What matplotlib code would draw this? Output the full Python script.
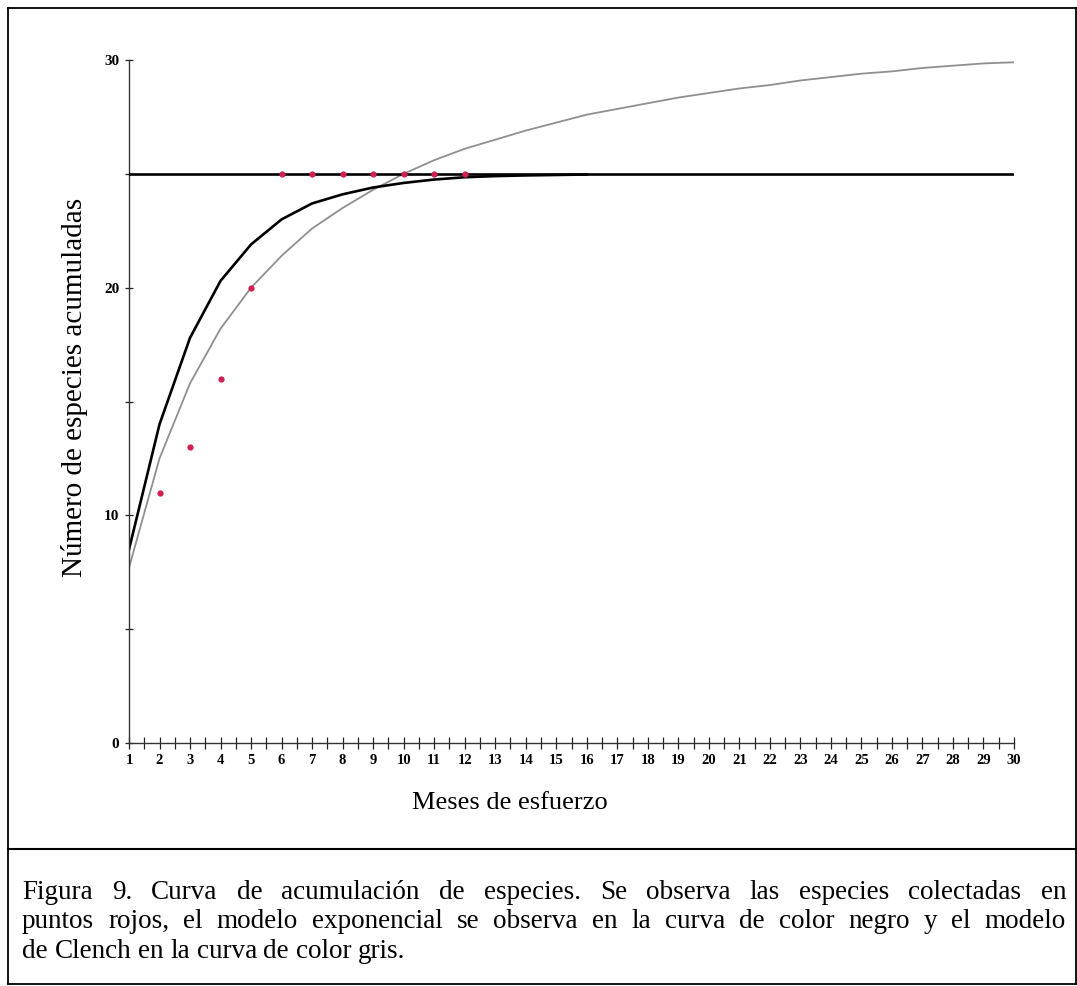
import matplotlib
matplotlib.use("Agg")
import matplotlib.pyplot as plt
from matplotlib.lines import Line2D
from matplotlib.ticker import MultipleLocator

# meses de esfuerzo y especies observadas (puntos rojos)
obs_meses = [2, 3, 4, 5, 6, 7, 8, 9, 10, 11, 12]
obs_especies = [11, 13, 16, 20, 25, 25, 25, 25, 25, 25, 25]

# modelo exponencial (curva negra), meses 1..16
exp_meses = list(range(1, 17))
exp_valores = [8.5, 14.0, 17.8, 20.3, 21.9, 23.0, 23.7, 24.1, 24.4, 24.6,
               24.75, 24.85, 24.9, 24.93, 24.95, 24.97]

# asintota del modelo exponencial
asintota = 25
asintota_x = [1, 30]

# modelo de Clench (curva gris), meses 1..30
clench_meses = list(range(1, 31))
clench_valores = [7.7, 12.5, 15.8, 18.2, 20.0, 21.4, 22.6, 23.5, 24.3, 25.0,
                  25.6, 26.1, 26.5, 26.9, 27.25, 27.6, 27.85, 28.1, 28.35, 28.55,
                  28.75, 28.9, 29.1, 29.25, 29.4, 29.5, 29.65, 29.75, 29.85, 29.9]

x_ticks = list(range(1, 31))
y_ticks = [0, 10, 20, 30]

caption = [
    "Figura 9. Curva de acumulación de especies. Se observa las especies colectadas en",
    "puntos rojos, el modelo exponencial se observa en la curva de color negro y el modelo",
    "de Clench en la curva de color gris.",
]

W, H = 1077, 986
fig = plt.figure(figsize=(W / 100, H / 100), dpi=100)
serif = ["Liberation Serif", "DejaVu Serif"]

ax = fig.add_axes([129 / W, 1 - 743 / H, (1014 - 129) / W, (743 - 60) / H])
ax.plot(asintota_x, [asintota, asintota], color="black", lw=1.9, zorder=3)
ax.plot(clench_meses, clench_valores, color="#8f8f8f", lw=1.3, zorder=2)
ax.plot(exp_meses, exp_valores, color="black", lw=1.9, zorder=2.5)
ax.plot(obs_meses, obs_especies, "o", color="#d0204f", ms=4.5, mec="none", zorder=4)

ax.set_xlim(1, 30)
ax.set_ylim(0, 30)
for s in ["top", "right"]:
    ax.spines[s].set_visible(False)
for s in ["left", "bottom"]:
    ax.spines[s].set_color("#333333")
    ax.spines[s].set_linewidth(1.0)

ax.set_xticks(x_ticks)
ax.set_xticklabels([str(v) for v in x_ticks])
ax.xaxis.set_minor_locator(MultipleLocator(0.5))
ax.set_yticks(y_ticks)
ax.set_yticklabels([str(v) for v in y_ticks])
ax.yaxis.set_minor_locator(MultipleLocator(5))
ax.tick_params(axis="x", which="both", direction="inout", length=8, width=0.9,
               color="#222222", pad=4)
ax.tick_params(axis="y", which="both", direction="inout", length=6, width=0.9,
               color="#222222", pad=4)
for lab in ax.get_xticklabels():
    lab.set_family(serif)
    lab.set_fontweight("bold")
    lab.set_fontsize(10.5)
for lab in ax.get_yticklabels():
    lab.set_family(serif)
    lab.set_fontweight("bold")
    lab.set_fontsize(11)

fig.text(75 / W, 1 - 387 / H, "Número de especies acumuladas", rotation=90,
         ha="center", va="center", family=serif, fontsize=21)
fig.text(510 / W, 1 - 803 / H, "Meses de esfuerzo", ha="center", va="center",
         family=serif, fontsize=19)

# marco y linea divisoria
def hline(y, x0, x1, lw):
    fig.add_artist(Line2D([x0 / W, x1 / W], [1 - y / H, 1 - y / H], color="black",
                          lw=lw, transform=fig.transFigure))

def vline(x, y0, y1, lw):
    fig.add_artist(Line2D([x / W, x / W], [1 - y0 / H, 1 - y1 / H], color="black",
                          lw=lw, transform=fig.transFigure))

hline(8, 8, 1076, 1.3)
hline(849, 8, 1076, 1.5)
hline(984, 8, 1076, 1.3)
vline(8, 8, 984, 1.3)
vline(1076, 8, 984, 1.3)

# leyenda justificada
cap_size = 19.5
fig.canvas.draw()
rend = fig.canvas.get_renderer()
x_left, x_right = 22, 1066
baselines = [899, 928, 958]
for i, (line, yb) in enumerate(zip(caption, baselines)):
    words = line.split(" ")
    texts = [fig.text(0, 1 - yb / H, w, ha="left", va="baseline", family=serif,
                      fontsize=cap_size) for w in words]
    widths = [t.get_window_extent(rend).width for t in texts]
    if i < len(caption) - 1:
        gap = (x_right - x_left - sum(widths)) / (len(words) - 1)
    else:
        sp = fig.text(0, 0, "a a", family=serif, fontsize=cap_size)
        sp2 = fig.text(0, 0, "aa", family=serif, fontsize=cap_size)
        gap = sp.get_window_extent(rend).width - sp2.get_window_extent(rend).width
        sp.remove()
        sp2.remove()
    x = x_left
    for t, w in zip(texts, widths):
        t.set_x(x / W)
        x += w + gap

fig.savefig("out.png", dpi=100)
